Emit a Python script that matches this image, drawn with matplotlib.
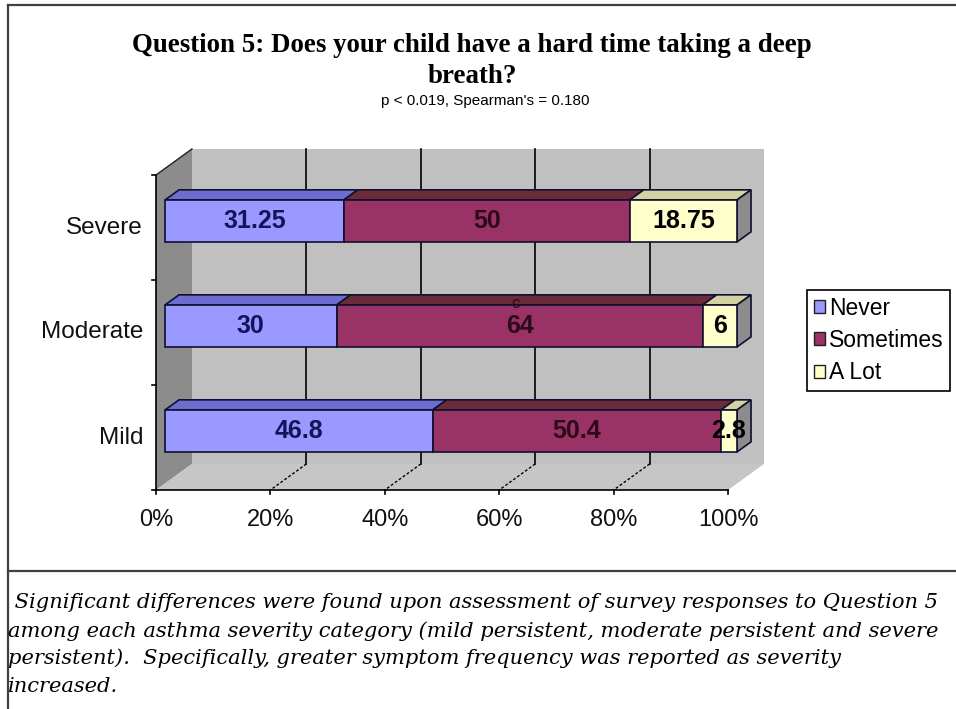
import matplotlib.pyplot as plt
from matplotlib.patches import Polygon, Patch
from matplotlib.lines import Line2D

# survey answers per severity group (percent of respondents)
categories = ["Mild", "Moderate", "Severe"]
never = [46.8, 30, 31.25]
sometimes = [50.4, 64, 50]
a_lot = [2.8, 6, 18.75]
series_names = ["Never", "Sometimes", "A Lot"]

x_ticks = [0, 20, 40, 60, 80, 100]
x_tick_labels = ["0%", "20%", "40%", "60%", "80%", "100%"]

title = "Question 5: Does your child have a hard time taking a deep\nbreath?"
subtitle = "p < 0.019, Spearman's = 0.180"
caption = [
    " Significant differences were found upon assessment of survey responses to Question 5",
    "among each asthma severity category (mild persistent, moderate persistent and severe",
    "persistent).  Specifically, greater symptom frequency was reported as severity",
    "increased.",
]

face_colors = ["#9999ff", "#993366", "#ffffcc"]
top_colors = ["#6d6dd0", "#6a2c38", "#d4d1a2"]
label_colors = ["#14145a", "#2e0a18", "#000000"]
edge = "#101030"

W, H = 956, 709
# oblique depth offset, in data units
DX, DY = 6.29, 0.248
D_FRONT, D_BACK = 0.25, 0.64
BAR_H = 0.4


def proj(v, y, d):
    return (v + d * DX, y + d * DY)


def quad(points, fc, ec="none", lw=0, z=1):
    return Polygon(points, closed=True, facecolor=fc, edgecolor=ec, linewidth=lw, zorder=z)


fig = plt.figure(figsize=(W / 100, H / 100), dpi=100)
fig.patch.set_facecolor("white")

# plot box: x 0..100 -> 156..728 px, y 0..3 -> 490..175 px
ax = fig.add_axes([140 / W, (H - 500) / H, 660 / W, 370 / H])
ax.set_xlim((140 - 156) / 5.72, (800 - 156) / 5.72)
ax.set_ylim((490 - 500) / 105, (490 - 130) / 105)
ax.axis("off")

n_cat = len(categories)

# walls and floor
ax.add_patch(quad([proj(0, 0, 0), proj(0, n_cat, 0), proj(0, n_cat, 1), proj(0, 0, 1)], "#8c8c8c"))
ax.add_patch(quad([proj(0, 0, 1), proj(100, 0, 1), proj(100, n_cat, 1), proj(0, n_cat, 1)], "#c0c0c0"))
ax.add_patch(quad([proj(0, 0, 0), proj(100, 0, 0), proj(100, 0, 1), proj(0, 0, 1)], "#c6c6c6"))

for v in x_ticks[1:-1]:
    (xa, ya), (xb, yb) = proj(v, 0, 1), proj(v, n_cat, 1)
    ax.add_line(Line2D([xa, xb], [ya, yb], color="black", lw=1.2, zorder=2))
    (xc, yc) = proj(v, 0, 0)
    ax.add_line(Line2D([xa, xc], [ya, yc], color="black", lw=1.0, ls=(0, (2, 1.5)), zorder=2))

# axis lines and ticks
ax.add_line(Line2D([0, 100], [0, 0], color="black", lw=1.2, zorder=3))
ax.add_line(Line2D([0, 0], [0, n_cat], color="black", lw=1.2, zorder=3))
(xa, ya), (xb, yb) = proj(0, n_cat, 0), proj(0, n_cat, 1)
ax.add_line(Line2D([xa, xb], [ya, yb], color="#202020", lw=1.0, zorder=3))
for v, lab in zip(x_ticks, x_tick_labels):
    ax.add_line(Line2D([v, v], [0, -0.04], color="black", lw=1.2, zorder=3))
    ax.text(v, -0.286, lab, ha="center", va="center", fontsize=17,
            family="Liberation Sans", color="#111111")
for k in range(n_cat + 1):
    ax.add_line(Line2D([0, -0.7], [k, k], color="black", lw=1.2, zorder=3))

# stacked 3d bars
series = [never, sometimes, a_lot]
for i, cat in enumerate(categories):
    yc = i + 0.5
    y0, y1 = yc - BAR_H / 2, yc + BAR_H / 2
    left = 0
    for j, vals in enumerate(series):
        v0, v1 = left, left + vals[i]
        ax.add_patch(quad([proj(v0, y1, D_FRONT), proj(v1, y1, D_FRONT),
                           proj(v1, y1, D_BACK), proj(v0, y1, D_BACK)],
                          top_colors[j], edge, 1.2, 4))
        ax.add_patch(quad([proj(v0, y0, D_FRONT), proj(v1, y0, D_FRONT),
                           proj(v1, y1, D_FRONT), proj(v0, y1, D_FRONT)],
                          face_colors[j], edge, 1.2, 5))
        if j == len(series) - 1:
            ax.add_patch(quad([proj(v1, y0, D_FRONT), proj(v1, y0, D_BACK),
                               proj(v1, y1, D_BACK), proj(v1, y1, D_FRONT)],
                              "#8c8c8c", edge, 1.2, 4))
        tx, ty = proj((v0 + v1) / 2, yc, D_FRONT)
        ax.text(tx, ty, f"{vals[i]:g}", ha="center", va="center", fontsize=18,
                fontweight="bold", family="Liberation Sans", color=label_colors[j], zorder=6)
        left = v1
    ax.text(-2.27, yc, cat, ha="right", va="center", fontsize=17.5,
            family="Liberation Sans", color="#111111")

# stray marker above the moderate label
ax.text(62.8, 1.78, "c", ha="center", va="center", fontsize=12,
        family="Liberation Sans", color=label_colors[1], zorder=6)

# legend
handles = [Patch(facecolor=c, edgecolor="#202020", linewidth=1) for c in face_colors]
leg = ax.legend(handles, series_names, loc="upper left",
                bbox_to_anchor=(807 / W, 1 - 290 / H), bbox_transform=fig.transFigure,
                frameon=True, fancybox=False, edgecolor="black", framealpha=1,
                prop={"family": "Liberation Sans", "size": 16.5},
                handlelength=0.5, handleheight=0.5, handletextpad=0.15,
                labelspacing=0.4, borderpad=0.3, borderaxespad=0)
leg.get_frame().set_linewidth(1.2)

# titles
fig.text(472 / W, 1 - 61 / H, title, ha="center", va="center", fontsize=19.4,
         fontweight="bold", family="Liberation Serif", linespacing=1.3)
fig.text(485 / W, 1 - 101 / H, subtitle, ha="center", va="center", fontsize=11,
         family="Liberation Sans")

# caption under the chart
for k, line in enumerate(caption):
    fig.text(8 / W, 1 - (603 + 27.7 * k) / H, line, ha="left", va="center",
             fontsize=15.1, style="italic", family="DejaVu Serif")

# frame and divider
frame = dict(color="#404040", lw=1.6, transform=fig.transFigure)
fig.add_artist(Line2D([8 / W, 8 / W], [0, 1 - 5 / H], **frame))
fig.add_artist(Line2D([8 / W, 1], [1 - 5 / H, 1 - 5 / H], **frame))
fig.add_artist(Line2D([8 / W, 1], [1 - 571 / H, 1 - 571 / H], **frame))

fig.savefig("out.png", dpi=100)
